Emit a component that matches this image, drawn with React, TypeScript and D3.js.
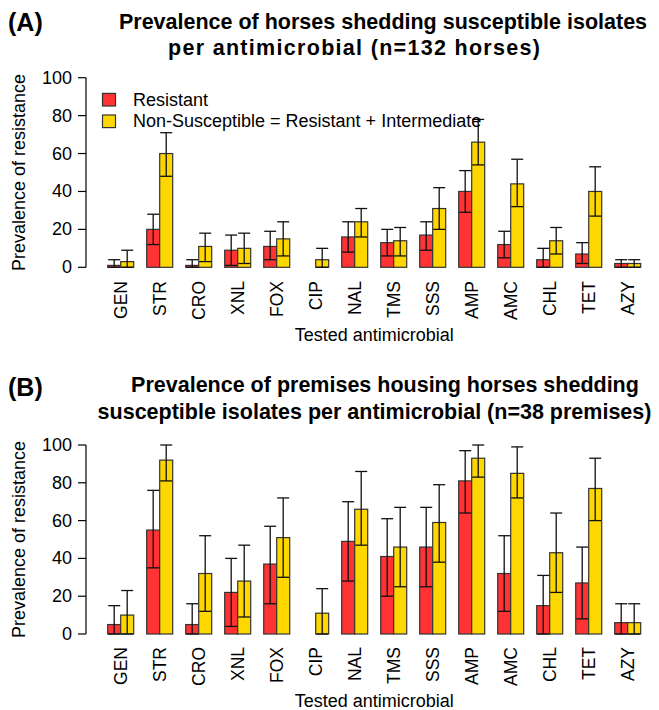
import React from "react";
import * as d3 from "d3";

const categories = ["GEN","STR","CRO","XNL","FOX","CIP","NAL","TMS","SSS","AMP","AMC","CHL","TET","AZY"];
const yTicks = [0, 20, 40, 60, 80, 100];
const seriesNames = ["Resistant", "Non-Susceptible = Resistant + Intermediate"];

// Panel A (horses)
const resA = [1,20,1,9,11,0,16,13,17,40,12,4,7,2];
const resALo = [0,12,0,1,4,0,8,6,9,29,5,0,2,0];
const resAHi = [4,28,4,17,19,0,24,20,24,51,19,10,13,4];
const nsA = [3,60,11,10,15,4,24,14,31,66,44,14,40,2];
const nsALo = [0,48,3,2,6,0,16,6,20,54,32,7,27,0];
const nsAHi = [9,71,18,18,24,10,31,21,42,78,57,21,53,4];

// Panel B (premises)
const resB = [5,55,5,22,37,0,49,41,46,81,32,15,27,6];
const resBLo = [0,35,0,4,16,0,28,20,25,64,12,0,8,0];
const resBHi = [15,76,16,40,57,0,70,61,67,97,52,31,46,16];
const nsB = [10,92,32,28,51,11,66,46,59,93,85,43,77,6];
const nsBLo = [0,81,12,9,30,0,47,25,38,83,72,22,60,0];
const nsBHi = [23,100,52,47,72,24,86,67,79,100,99,64,93,16];

const COLORS = ["#FF3333", "#FFD700"];
const FONT = "'Liberation Sans', Arial, Helvetica, sans-serif";

type TitleLine = { text: string; x: number; y: number; len?: number };

type PanelProps = {
  label: string;
  labelY: number;
  titleLines: TitleLine[];
  y0: number;
  y100: number;
  res: number[]; resLo: number[]; resHi: number[];
  ns: number[]; nsLo: number[]; nsHi: number[];
  legend: boolean;
  catY: number;
  xTitleY: number;
};

function Panel(p: PanelProps) {
  const x = d3.scaleBand<string>()
    .domain(categories)
    .range([107.7 - 6.5, 640.7 + 6.5])
    .paddingInner(1 / 3)
    .paddingOuter(1 / 6);
  const sub = d3.scaleBand<string>().domain(["R", "NS"]).range([0, x.bandwidth()]);
  const y = d3.scaleLinear().domain([0, 100]).range([p.y0, p.y100]);
  const bw = sub.bandwidth();
  const capHalf = 6;
  const axisX = 86;

  const series = [
    { key: "R", v: p.res, lo: p.resLo, hi: p.resHi, color: COLORS[0] },
    { key: "NS", v: p.ns, lo: p.nsLo, hi: p.nsHi, color: COLORS[1] },
  ];

  const midY = (p.y0 + p.y100) / 2;
  const xCenter = ((x(categories[0]) ?? 0) + (x(categories[categories.length - 1]) ?? 0) + x.bandwidth()) / 2;

  return (
    <g fontFamily={FONT} fill="#000">
      <text x={8} y={p.labelY} fontSize={25} fontWeight="bold">{p.label}</text>
      {p.titleLines.map((t, i) => (
        <text key={i} x={t.x} y={t.y} fontSize={21.5} fontWeight="bold" textAnchor="middle"
          {...(t.len ? { textLength: t.len, lengthAdjust: "spacing" } : {})}>{t.text}</text>
      ))}
      {/* y axis */}
      <line x1={axisX} x2={axisX} y1={y(0)} y2={y(100)} stroke="#000" strokeWidth={1.2} />
      {yTicks.map((t) => (
        <g key={t}>
          <line x1={axisX - 8} x2={axisX} y1={y(t)} y2={y(t)} stroke="#000" strokeWidth={1.2} />
          <text x={axisX - 14} y={y(t)} fontSize={18} textAnchor="end" dominantBaseline="central">{t}</text>
        </g>
      ))}
      <text transform={`translate(25,${midY}) rotate(-90)`} fontSize={18} textAnchor="middle">Prevalence of resistance</text>
      {/* bars */}
      {series.map((s) => (
        <g key={s.key}>
          {categories.map((c, i) => {
            const bx = (x(c) ?? 0) + (sub(s.key) ?? 0);
            const top = y(s.v[i]);
            return (
              <rect key={c} x={bx} y={top} width={bw} height={y(0) - top}
                fill={s.color} stroke="#333" strokeWidth={1.2} />
            );
          })}
        </g>
      ))}
      {/* error bars */}
      {series.map((s) => (
        <g key={"e" + s.key} stroke="#111" strokeWidth={1.3}>
          {categories.map((c, i) => {
            if (s.hi[i] <= s.lo[i]) return null;
            const cx = (x(c) ?? 0) + (sub(s.key) ?? 0) + bw / 2;
            return (
              <g key={c}>
                <line x1={cx} x2={cx} y1={y(s.lo[i])} y2={y(s.hi[i])} />
                <line x1={cx - capHalf} x2={cx + capHalf} y1={y(s.hi[i])} y2={y(s.hi[i])} />
                <line x1={cx - capHalf} x2={cx + capHalf} y1={y(s.lo[i])} y2={y(s.lo[i])} />
              </g>
            );
          })}
        </g>
      ))}
      {/* category labels */}
      {categories.map((c) => {
        const cx = (x(c) ?? 0) + x.bandwidth() / 2;
        return (
          <text key={c} transform={`translate(${cx},${p.catY}) rotate(-90)`} fontSize={17.5}
            textAnchor="end" dominantBaseline="central">{c}</text>
        );
      })}
      <text x={xCenter} y={p.xTitleY} fontSize={18} textAnchor="middle">Tested antimicrobial</text>
      {p.legend && seriesNames.map((n, i) => {
        const ly = 99.7 + i * 21.6;
        return (
          <g key={n}>
            <rect x={102.5} y={ly - 6.3} width={13} height={12.6} fill={COLORS[i]} stroke="#333" strokeWidth={1.2} />
            <text x={133} y={ly} fontSize={18} dominantBaseline="central">{n}</text>
          </g>
        );
      })}
    </g>
  );
}

export default function App() {
  return (
    <svg width={659} height={710} style={{ position: "absolute", left: 0, top: 0, background: "#fff" }}>
      <rect width={659} height={710} fill="#fff" />
      <Panel
        label="(A)"
        labelY={31}
        titleLines={[
          { text: "Prevalence of horses shedding susceptible isolates", x: 383, y: 29 },
          { text: "per antimicrobial (n=132 horses)", x: 354, y: 55, len: 372 },
        ]}
        y0={267.3} y100={77.7}
        res={resA} resLo={resALo} resHi={resAHi}
        ns={nsA} nsLo={nsALo} nsHi={nsAHi}
        legend={true}
        catY={281}
        xTitleY={341}
      />
      <Panel
        label="(B)"
        labelY={396}
        titleLines={[
          { text: "Prevalence of premises housing horses shedding", x: 385, y: 392 },
          { text: "susceptible isolates per antimicrobial (n=38 premises)", x: 374.5, y: 419 },
        ]}
        y0={634} y100={445}
        res={resB} resLo={resBLo} resHi={resBHi}
        ns={nsB} nsLo={nsBLo} nsHi={nsBHi}
        legend={false}
        catY={647}
        xTitleY={707}
      />
    </svg>
  );
}
